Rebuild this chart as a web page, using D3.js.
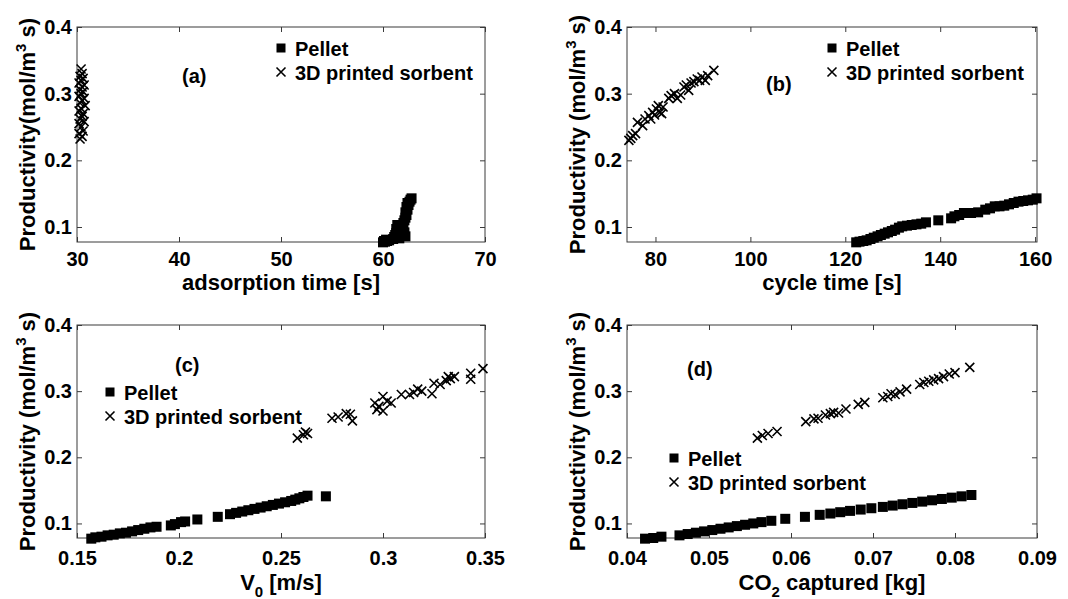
<!DOCTYPE html>
<html>
<head>
<meta charset="utf-8">
<script src="https://cdn.jsdelivr.net/npm/d3@7"></script>
<style>
  body { margin: 0; background: #fff; }
  text { font-family: "Liberation Sans", Arial, Helvetica, sans-serif; font-weight: bold; fill: #000; }
</style>
</head>
<body>
<svg id="fig" width="1068" height="599"></svg>
<script>
// [x, productivity]
const pelletA = [[60.0,0.077],[60.2,0.078],[60.4,0.079],[60.6,0.080],[60.3,0.081],[60.1,0.079],[61.0,0.082],[61.1,0.085],[61.2,0.088],[61.3,0.091],
  [61.4,0.094],[61.3,0.097],[61.5,0.100],[61.4,0.103],[61.6,0.083],[62.2,0.086],[62.1,0.092],[62.0,0.106],[62.1,0.110],[62.2,0.114],
  [62.3,0.118],[62.2,0.122],[62.4,0.126],[62.3,0.130],[62.5,0.133],[62.4,0.136],[62.6,0.138],[62.7,0.141],[62.8,0.143]];
const sorbentA = [[30.3,0.232],[30.5,0.236],[30.2,0.240],[30.6,0.244],[30.4,0.250],[30.2,0.255],[30.7,0.258],[30.3,0.262],[30.5,0.266],[30.6,0.270],
  [30.2,0.274],[30.4,0.278],[30.8,0.282],[30.3,0.286],[30.5,0.290],[30.7,0.293],[30.2,0.296],[30.4,0.300],[30.6,0.303],[30.3,0.306],
  [30.5,0.310],[30.7,0.313],[30.2,0.316],[30.4,0.320],[30.6,0.323],[30.3,0.326],[30.5,0.330],[30.4,0.337]];

const pelletB = [[122.3,0.077],[123.0,0.078],[123.8,0.079],[124.5,0.080],[125.3,0.082],[126.0,0.084],[126.8,0.086],[127.5,0.088],[128.3,0.090],[129.0,0.092],
  [129.8,0.094],[130.5,0.096],[131.3,0.099],[132.0,0.101],[133.0,0.102],[134.0,0.103],[135.0,0.104],[136.0,0.105],[137.0,0.107],[139.6,0.110],
  [142.3,0.113],[143.0,0.116],[144.0,0.118],[145.0,0.121],[146.5,0.121],[148.0,0.122],[149.5,0.126],[150.5,0.128],[151.5,0.131],[152.5,0.131],
  [153.5,0.132],[154.5,0.134],[155.5,0.136],[156.5,0.138],[157.5,0.139],[158.5,0.140],[159.5,0.141],[160.3,0.143]];
const sorbentB = [[74.4,0.230],[74.8,0.233],[75.2,0.237],[75.8,0.240],[76.2,0.257],[77.3,0.252],[77.8,0.262],[78.6,0.267],[79.0,0.262],[79.4,0.272],
  [79.8,0.268],[80.2,0.277],[80.6,0.282],[80.9,0.272],[81.3,0.270],[81.6,0.280],[82.8,0.293],[83.3,0.297],[84.0,0.300],[84.6,0.293],
  [85.3,0.298],[86.0,0.310],[86.5,0.313],[87.0,0.305],[87.5,0.316],[88.1,0.318],[88.8,0.322],[89.3,0.320],[89.8,0.325],[90.5,0.320],
  [91.0,0.327],[92.3,0.335]];

const pelletC = [[0.157,0.077],[0.159,0.079],[0.162,0.080],[0.165,0.082],[0.168,0.083],[0.171,0.085],[0.174,0.086],[0.177,0.088],[0.180,0.090],[0.183,0.092],
  [0.186,0.094],[0.189,0.095],[0.196,0.097],[0.198,0.099],[0.201,0.102],[0.203,0.103],[0.209,0.106],[0.219,0.110],[0.225,0.114],[0.228,0.116],
  [0.231,0.118],[0.234,0.120],[0.237,0.122],[0.240,0.124],[0.243,0.126],[0.246,0.128],[0.249,0.130],[0.252,0.132],[0.255,0.134],[0.257,0.136],
  [0.259,0.138],[0.261,0.140],[0.263,0.142],[0.272,0.141]];
const sorbentC = [[0.258,0.229],[0.261,0.234],[0.262,0.238],[0.263,0.236],[0.275,0.259],[0.278,0.261],[0.282,0.266],[0.284,0.265],[0.285,0.255],[0.296,0.282],
  [0.297,0.272],[0.298,0.277],[0.300,0.292],[0.300,0.270],[0.302,0.285],[0.304,0.282],[0.309,0.295],[0.313,0.295],[0.315,0.298],[0.317,0.303],
  [0.319,0.300],[0.324,0.296],[0.325,0.312],[0.328,0.310],[0.331,0.316],[0.332,0.322],[0.333,0.319],[0.335,0.322],[0.343,0.327],[0.343,0.318],
  [0.349,0.334]];

const pelletD = [[0.0422,0.077],[0.0432,0.078],[0.0442,0.080],[0.0464,0.082],[0.0474,0.084],[0.0484,0.086],[0.0494,0.088],[0.0504,0.090],[0.0514,0.092],[0.0524,0.094],
  [0.0534,0.096],[0.0544,0.098],[0.0554,0.100],[0.0564,0.102],[0.0576,0.104],[0.0593,0.107],[0.0617,0.110],[0.0635,0.113],[0.0648,0.115],[0.0660,0.117],
  [0.0672,0.119],[0.0685,0.121],[0.0698,0.123],[0.0712,0.125],[0.0724,0.127],[0.0736,0.129],[0.0748,0.131],[0.0760,0.133],[0.0772,0.135],[0.0784,0.137],
  [0.0796,0.139],[0.0808,0.141],[0.0820,0.143]];
const sorbentD = [[0.0559,0.229],[0.0565,0.233],[0.0572,0.236],[0.0583,0.239],[0.0618,0.254],[0.0628,0.258],[0.0633,0.259],[0.0642,0.264],[0.0648,0.266],[0.0652,0.268],
  [0.0658,0.267],[0.0667,0.273],[0.0682,0.280],[0.0690,0.283],[0.0712,0.290],[0.0718,0.292],[0.0722,0.296],[0.0727,0.295],[0.0733,0.299],[0.0741,0.303],
  [0.0757,0.310],[0.0762,0.313],[0.0768,0.315],[0.0774,0.317],[0.0780,0.319],[0.0786,0.322],[0.0793,0.326],[0.0800,0.328],[0.0818,0.336]];

const adsTicks = [30, 40, 50, 60, 70];
const cycleTicks = [80, 100, 120, 140, 160];
const velTicks = [0.15, 0.2, 0.25, 0.3, 0.35];
const velLabels = ["0.15", "0.2", "0.25", "0.3", "0.35"];
const co2Ticks = [0.04, 0.05, 0.06, 0.07, 0.08, 0.09];
const co2Labels = ["0.04", "0.05", "0.06", "0.07", "0.08", "0.09"];
const prodTicks = [0.1, 0.2, 0.3, 0.4];
const prodLabels = ["0.1", "0.2", "0.3", "0.4"];
const seriesNames = ["Pellet", "3D printed sorbent"];

const panels = [
  { tag: "(a)", box: [77, 27, 485, 242], xd: [30, 70], yd: [0.0775, 0.4],
    xt: adsTicks, xl: adsTicks.map(String), pel: pelletA, sor: sorbentA,
    xlab: [["adsorption time [s]"]], ylab: "Productivity(mol/m", pad: 10, labY: 290,
    tagPos: [182, 83], leg: [281, 48] },
  { tag: "(b)", box: [627, 27, 1037, 242], xd: [74, 160.4], yd: [0.0775, 0.4],
    xt: cycleTicks, xl: cycleTicks.map(String), pel: pelletB, sor: sorbentB,
    xlab: [["cycle time [s]"]], ylab: "Productivity (mol/m", pad: 10, labY: 290,
    tagPos: [766, 91], leg: [832, 48] },
  { tag: "(c)", box: [77, 325, 485, 538], xd: [0.15, 0.35], yd: [0.078, 0.4],
    xt: velTicks, xl: velLabels, pel: pelletC, sor: sorbentC,
    xlab: [["V"], ["0", "sub"], [" [m/s]"]], ylab: "Productivity (mol/m", pad: 13, labY: 590,
    tagPos: [175, 372], leg: [110, 392] },
  { tag: "(d)", box: [627, 325, 1037, 538], xd: [0.04, 0.09], yd: [0.078, 0.4],
    xt: co2Ticks, xl: co2Labels, pel: pelletD, sor: sorbentD,
    xlab: [["CO"], ["2", "sub"], [" captured [kg]"]], ylab: "Productivity (mol/m", pad: 13, labY: 590,
    tagPos: [687, 376], leg: [674, 458] }
];

const svg = d3.select("#fig");
svg.append("rect").attr("width", 1068).attr("height", 599).attr("fill", "#fff");

const axisColor = "#3a3a3a";

function cross(g, x, y) {
  const h = 4.5;
  g.append("path")
    .attr("d", `M${x-h},${y-h}L${x+h},${y+h}M${x-h},${y+h}L${x+h},${y-h}`)
    .attr("stroke", "#000").attr("stroke-width", 1.6).attr("fill", "none");
}

panels.forEach(function(p) {
  const [x0, y0, x1, y1] = p.box;
  const x = d3.scaleLinear().domain(p.xd).range([x0, x1]);
  const y = d3.scaleLinear().domain(p.yd).range([y1, y0]);
  const g = svg.append("g");

  const styleAxis = sel => {
    sel.select(".domain").remove();
    sel.selectAll("line").attr("stroke", axisColor);
    sel.selectAll("text").attr("font-size", 20).attr("fill", "#000")
      .attr("font-family", "'Liberation Sans', Arial, sans-serif").attr("font-weight", "bold");
  };

  g.append("g").attr("transform", `translate(0,${y1})`)
    .call(d3.axisBottom(x).tickValues(p.xt).tickFormat((d, i) => p.xl[i]).tickSize(-5).tickPadding(p.pad))
    .call(styleAxis);
  g.append("g").attr("transform", `translate(0,${y0})`)
    .call(d3.axisTop(x).tickValues(p.xt).tickFormat("").tickSize(-5))
    .call(styleAxis);
  g.append("g").attr("transform", `translate(${x0},0)`)
    .call(d3.axisLeft(y).tickValues(prodTicks).tickFormat((d, i) => prodLabels[i]).tickSize(-5).tickPadding(5))
    .call(styleAxis);
  g.append("g").attr("transform", `translate(${x1},0)`)
    .call(d3.axisRight(y).tickValues(prodTicks).tickFormat("").tickSize(-5))
    .call(styleAxis);

  g.append("rect").attr("x", x0).attr("y", y0).attr("width", x1 - x0).attr("height", y1 - y0)
    .attr("fill", "none").attr("stroke", axisColor).attr("stroke-width", 1);

  // markers
  g.selectAll(".pel").data(p.pel).enter().append("rect")
    .attr("x", d => x(d[0]) - 5).attr("y", d => y(d[1]) - 5)
    .attr("width", 10).attr("height", 10).attr("fill", "#000");
  p.sor.forEach(d => cross(g, x(d[0]), y(d[1])));

  // x label
  const xl = g.append("text").attr("x", (x0 + x1) / 2).attr("y", p.labY)
    .attr("text-anchor", "middle").attr("font-size", 22);
  p.xlab.forEach(part => {
    const t = xl.append("tspan").text(part[0]);
    if (part[1] === "sub") t.attr("font-size", 15).attr("dy", 7);
    else if (xl.selectAll("tspan").size() > 1) t.attr("dy", -7);
  });

  // y label
  const yl = g.append("text")
    .attr("transform", `translate(${x0 - 42},${(y0 + y1) / 2}) rotate(-90)`)
    .attr("text-anchor", "middle").attr("font-size", 22);
  yl.append("tspan").text(p.ylab);
  yl.append("tspan").text("3").attr("font-size", 15).attr("dy", -9);
  yl.append("tspan").text(" s)").attr("dy", 9);

  // panel tag
  g.append("text").attr("x", p.tagPos[0]).attr("y", p.tagPos[1]).attr("font-size", 20).text(p.tag);

  // legend
  const [lx, ly] = p.leg;
  g.append("rect").attr("x", lx - 4.5).attr("y", ly - 4.5).attr("width", 9).attr("height", 9).attr("fill", "#000");
  cross(g, lx, ly + 24);
  seriesNames.forEach((s, i) => {
    g.append("text").attr("x", lx + 14).attr("y", ly + 7.5 + i * 24).attr("font-size", 20).text(s);
  });
});
</script>
</body>
</html>
